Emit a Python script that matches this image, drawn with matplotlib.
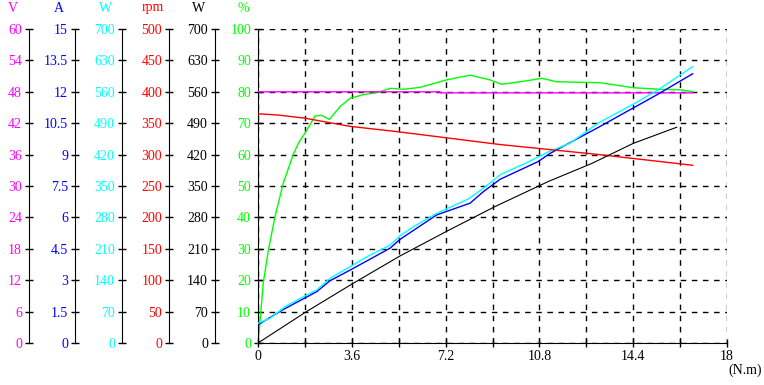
import numpy as np
import matplotlib.pyplot as plt

# torque (N.m) sample points for each curve
eff_x = [0, 0.05, 0.2, 0.4, 0.65, 0.97, 1.35, 1.55, 1.8, 2.19, 2.44, 2.74, 3.15, 3.53,
         4.04, 4.55, 5.07, 5.58, 6.22, 7.24, 8.14, 8.9, 9.35, 10.31, 10.89, 11.46,
         13.12, 14.4, 15.43, 16.26, 16.68]
eff_pct = [0, 4, 19, 29.6, 40.2, 50.9, 60, 63.6, 66.8, 72.3, 72.5, 71.2, 75.3, 77.9,
           79.1, 79.7, 81.1, 80.8, 81.4, 83.8, 85.3, 83.8, 82.4, 83.5, 84.3, 83.2,
           82.9, 81.3, 80.8, 80.6, 80.0]

volt_x = [0, 6.98, 7.0, 16.68]
volt_v = [48.0, 48.0, 47.8, 47.8]

pin_x = [0, 0.46, 1.04, 1.74, 2.25, 2.76, 3.53, 4.3, 5.07, 5.45, 5.96, 6.86, 8.07,
         8.65, 9.29, 10.31, 11.14, 11.96, 13.05, 14.45, 15.35, 16.68]
pin_w = [44, 55, 81, 103, 118, 144, 170, 196, 218, 239, 259, 289, 321, 345, 375,
         402, 426, 445, 490, 534, 564, 616]

amp_x = [0, 0.97, 2.25, 2.76, 3.53, 5.07, 5.45, 6.86, 8.14, 8.65, 9.29, 10.74,
         11.2, 13.12, 15.3, 16.68]
amp_a = [0.87, 1.6, 2.45, 2.97, 3.48, 4.53, 4.95, 6.12, 6.68, 7.23, 7.82, 8.66,
         9.05, 10.34, 11.85, 12.86]

rpm_x = [0, 0.77, 1.8, 3.53, 5.45, 9.29, 11.2, 13.1, 16.68]
rpm_n = [365, 363, 358, 345, 336, 316, 308, 300, 283]

pout_x = [0, 1.86, 3.65, 5.45, 7.24, 9.09, 11.14, 12.8, 14.4, 16.07]
pout_w = [0, 70, 133, 194, 249, 304, 360, 400, 445, 481]

# left axes: title, color, max, step, spine pixel x
scales = [("V", "#ff00ff", 60, 6, 29),
          ("A", "#0000ff", 15, 1.5, 75),
          ("W", "#00ffff", 700, 70, 122),
          ("rpm", "#ff0000", 500, 50, 169),
          ("W", "#000000", 700, 70, 215)]

W, H = 764, 385
L, R, T, B = 258, 727, 29, 343
FONT = "Liberation Serif"
FS = 10


def fmt(v):
    return ("%g" % v)


def main():
    plt.rcParams["font.family"] = FONT
    fig = plt.figure(figsize=(W / 100, H / 100), dpi=100)
    ax = fig.add_axes([L / W, (H - B) / H, (R - L) / W, (B - T) / H])
    ax.set_xlim(0, 18)
    ax.set_ylim(0, 100)
    for s in ["top", "right"]:
        ax.spines[s].set_visible(False)
    ax.set_xticks(np.arange(0, 18.01, 3.6))
    ax.set_xticklabels([fmt(round(v, 1)) for v in np.arange(0, 18.01, 3.6)], fontsize=FS)
    ax.set_xticks(np.arange(1.8, 18, 3.6), minor=True)
    ax.set_yticks(np.arange(0, 101, 10))
    ax.set_yticklabels([str(v) for v in range(0, 101, 10)], fontsize=FS, color="#00ff00")
    ax.tick_params(which="both", direction="inout", length=6, width=1, pad=2)
    ax.grid(True, which="both", color="black", linestyle=(0, (4, 4)), linewidth=1)
    ax.set_axisbelow(True)

    axes = {}
    for name, col, top, step, sx in scales:
        tw = ax.twinx()
        tw.set_ylim(0, top)
        for s in ["top", "right", "bottom"]:
            tw.spines[s].set_visible(False)
        tw.spines["left"].set_visible(True)
        tw.spines["left"].set_position(("axes", (sx - L) / (R - L)))
        tw.yaxis.set_ticks_position("left")
        ticks = np.arange(0, top + step / 2, step)
        tw.set_yticks(ticks)
        tw.set_yticklabels([fmt(round(t, 1)) for t in ticks], fontsize=FS, color=col)
        tw.tick_params(direction="inout", length=6, width=1, pad=2)
        axes[(name, col)] = tw
        fig.text((sx - 16) / W, 1 - 8 / H, name, color=col, fontsize=FS,
                 ha="center", va="center")
    fig.text(243 / W, 1 - 8 / H, "%", color="#00ff00", fontsize=FS,
             ha="center", va="center")
    fig.text(745 / W, 1 - 370 / H, "(N.m)", fontsize=FS, ha="center", va="center")

    ax_v = axes[("V", "#ff00ff")]
    ax_a = axes[("A", "#0000ff")]
    ax_pin = axes[("W", "#00ffff")]
    ax_rpm = axes[("rpm", "#ff0000")]
    ax_pout = axes[("W", "#000000")]

    ax.plot(eff_x, eff_pct, color="#00ff00", lw=1, clip_on=False)
    ax_rpm.plot(rpm_x, rpm_n, color="#ff0000", lw=1)
    ax_pout.plot(pout_x, pout_w, color="black", lw=0.8)
    ax_pin.plot(pin_x, pin_w, color="#00ffff", lw=1)
    ax_a.plot(amp_x, amp_a, color="#0000ff", lw=1)
    ax_v.plot(volt_x, volt_v, color="#ff00ff", lw=1)

    fig.savefig("out.png", dpi=100)


if __name__ == "__main__":
    main()
